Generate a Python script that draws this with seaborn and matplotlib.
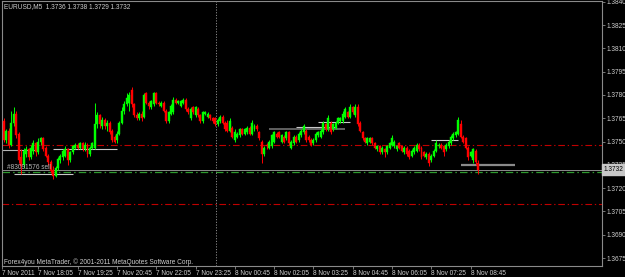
import numpy as np
import pandas as pd
import matplotlib
matplotlib.use("Agg")
import matplotlib.pyplot as plt
import matplotlib.transforms as mtransforms
import seaborn as sns

# ---------------- data (prices as pips above 1.3700) ----------------
BASE = 1.3700
open_pips = [63,51,57,48,62,68,55,40,35,42, 45,40,44,49,43,50,52,46,41,37,
             32,28,33,38,40,41,45,38,43,46, 48,46,49,45,48,42,46,46,61,67,
             60,64,60,62,57,53,51,55,62,70, 74,75,83,74,67,65,68,66,81,75,
             72,74,81,75,73,75,70,63,68,69, 77,75,73,75,77,71,65,72,67,71,
             67,63,68,66,67,65,65,61,63,66, 62,62,57,59,51,53,54,58,55,56,
             59,55,58,60,56,50,42,48,46,47, 50,55,56,50,53,52,56,46,49,53,
             51,54,56,57,53,51,49,51,54,53, 56,61,58,62,58,59,62,63,63,66,
             69,66,72,67,72,62,56,52,49,50, 52,49,45,47,43,45,43,46,48,47,
             45,49,47,43,46,44,41,43,44,48, 46,43,40,42,38,41,44,47,48,47,
             45,47,49,52,54,55,61,53,52,46, 41,38,44,36]
high_pips = [65,58,59,70,72,70,56,45,46,47, 46,48,51,50,52,53,53,47,42,38,
             34,34,40,42,45,47,46,44,48,49, 49,50,50,50,49,47,50,75,69,68,
             66,65,64,63,58,54,57,63,72,76, 81,82,85,75,69,69,70,81,82,76,
             77,82,82,76,76,76,71,70,74,79, 78,77,77,78,78,72,72,73,73,72,
             68,70,70,69,68,66,66,65,67,67, 63,64,65,60,58,56,59,59,59,60,
             60,64,61,61,57,51,47,49,51,55, 57,56,57,55,54,57,57,51,54,54,
             56,58,61,58,54,52,52,56,57,58, 63,62,67,63,62,63,66,66,70,72,
             70,74,73,74,74,63,57,53,53,53, 53,50,48,48,47,46,48,50,54,51,
             48,50,48,47,47,45,45,47,49,49, 47,44,43,43,42,45,51,49,49,48,
             49,51,54,56,57,66,64,54,53,47, 44,46,45,38]
low_pips = [50,49,46,47,60,52,36,29,33,40, 38,39,42,41,42,48,44,40,35,30,
            26,27,32,36,38,40,35,37,42,45, 45,45,44,44,40,41,45,45,59,59,
            58,58,57,55,50,49,49,54,61,68, 73,70,72,66,64,64,63,65,74,71,
            71,73,74,73,72,69,62,62,67,68, 74,74,72,74,70,68,64,68,66,66,
            62,62,67,65,64,62,60,60,62,61, 57,56,56,52,50,52,53,54,54,55,
            54,54,57,57,51,36,41,45,45,46, 49,52,52,49,49,51,48,45,48,49,
            50,53,55,50,50,47,48,50,53,52, 55,57,57,55,57,58,61,62,62,65,
            65,65,68,66,60,56,51,49,48,49, 48,45,44,42,42,40,42,45,47,46,
            44,45,43,42,41,39,40,42,43,44, 39,40,39,34,37,40,43,46,45,41,
            44,46,48,51,53,54,52,49,45,38, 40,36,35,29]
close_pips = [51,57,48,62,68,54,38,34,44,45, 40,46,49,43,50,52,45,41,37,31,
              28,33,39,41,44,45,38,43,47,48, 46,49,45,48,42,46,49,61,67,61,
              64,60,62,56,51,50,55,62,70,74, 78,80,74,67,65,68,65,80,75,73,
              76,81,75,74,75,70,63,69,73,77, 75,76,76,77,71,69,71,69,72,67,
              63,69,69,68,65,63,61,64,66,62, 58,57,63,53,56,55,58,55,58,59,
              55,62,60,58,52,42,46,47,50,54, 56,53,53,54,50,56,49,50,53,50,
              55,57,60,51,51,48,51,55,56,57, 62,58,65,56,61,62,65,65,68,71,
              66,72,69,72,61,57,52,50,52,52, 49,46,47,43,46,43,47,49,52,50,
              47,46,44,46,42,40,44,46,48,45, 40,41,42,36,41,44,49,48,46,43,
              48,50,53,55,56,64,53,50,46,40, 43,45,37,32]

symbol_text = "EURUSD,M5  1.3736 1.3738 1.3729 1.3732"
copyright_text = "Forex4you MetaTrader, \u00a9 2001-2011 MetaQuotes Software Corp."
order_label = "#83091576 sell"
bid_price = 1.3732
order_price = 1.37305
level_prices = [1.37478, 1.37098]

price_ticks = [1.3840, 1.3825, 1.3810, 1.3795, 1.3780, 1.3765, 1.3750,
               1.3735, 1.3720, 1.3705, 1.3690, 1.3675]
time_tick_bars = [-0.7, 14, 30, 46, 62, 78, 94, 110, 126, 142, 158, 174, 190]
time_tick_labels = ["7 Nov 2011", "7 Nov 18:05", "7 Nov 19:25", "7 Nov 20:45",
                    "7 Nov 22:05", "7 Nov 23:25", "8 Nov 00:45", "8 Nov 02:05",
                    "8 Nov 03:25", "8 Nov 04:45", "8 Nov 06:05", "8 Nov 07:25",
                    "8 Nov 08:45"]
separator_bar = 86.3

seg_price = [1.37446, 1.37453, 1.37292, 1.37582, 1.37594, 1.37627, 1.37511, 1.37350]
seg_start = [-0.8, 20, 4, 108, 119, 128, 174, 186]
seg_end = [13.8, 46, 28, 139, 135, 141, 185, 208]
seg_color = ["#b4b4b4", "#c8c8c8", "#c8c8c8", "#707070", "#c8c8c8", "#c8c8c8",
             "#c8c8c8", "#8a8a8a"]
seg_width = [0.8, 0.8, 0.8, 1.2, 0.8, 0.8, 0.8, 1.6]

# ---------------- figure ----------------
sns.set_theme(style="dark", rc={"axes.facecolor": "black", "figure.facecolor": "black",
                                "savefig.facecolor": "black"})
plt.rcParams["font.family"] = ["Liberation Sans", "DejaVu Sans"]

df = pd.DataFrame({
    "bar": np.arange(len(close_pips)),
    "open": BASE + np.array(open_pips) / 1e4,
    "high": BASE + np.array(high_pips) / 1e4,
    "low": BASE + np.array(low_pips) / 1e4,
    "close": BASE + np.array(close_pips) / 1e4,
})
df["color"] = np.where(df["close"] >= df["open"], "#00ff00", "#ff0000")

fig = plt.figure(figsize=(6.25, 2.77), dpi=100)
ax = fig.add_axes([2 / 625, 11 / 277, 600 / 625, 265 / 277])
ax.set_facecolor("black")

txt_col = "#cfcfcf"
fs = 4.7

# horizontal lines (levels, order, bid)
for p in level_prices:
    ax.axhline(p, color="#c00000", lw=0.8, ls=(0, (6, 2.5, 1.2, 2.5)), zorder=1)
ax.axhline(order_price, color="#2f9a2f", lw=0.9, ls=(0, (6, 2.5, 1.2, 2.5)), zorder=1)
ax.axhline(bid_price, color="#8c8c8c", lw=0.7, zorder=1)
ax.axvline(separator_bar, color="#8a8a8a", lw=0.7, ls=(0, (1.2, 1.6)), zorder=1)

# trend segments
for p, s, e, c, w in zip(seg_price, seg_start, seg_end, seg_color, seg_width):
    ax.hlines(p, s, e, colors=c, lw=w, zorder=2)

# candles
ax.vlines(df["bar"], df["low"], df["high"], colors=df["color"], lw=0.7, zorder=3)
ax.bar(df["bar"], df["close"] - df["open"], bottom=df["open"], width=0.8,
       color=df["color"], edgecolor=df["color"], linewidth=0.3, zorder=4)

ax.set_xlim(-0.81, 243.5)
ax.set_ylim(1.36699, 1.38405)

# axes styling
for s in ax.spines.values():
    s.set_color("#8a8a8a")
    s.set_linewidth(0.8)
    s.set_visible(True)
ax.yaxis.tick_right()
ax.set_yticks(price_ticks)
ax.set_yticklabels([f"{v:.4f}" for v in price_ticks])
ax.set_xticks(time_tick_bars)
ax.set_xticklabels(time_tick_labels)
ax.tick_params(axis="y", which="both", right=True, left=False, length=2, width=0.6,
               color="#8a8a8a", labelcolor=txt_col, labelsize=fs, pad=1.2)
ax.tick_params(axis="x", which="both", bottom=True, length=2, width=0.6,
               color="#8a8a8a", labelcolor=txt_col, labelsize=fs, pad=1.2)
for lab in ax.get_xticklabels():
    lab.set_horizontalalignment("left")
ax.grid(False)

# texts
fig.text(4 / 625, 1 - 7 / 277, symbol_text, color=txt_col, fontsize=fs, va="center", ha="left")
fig.text(4 / 625, 1 - 262 / 277, copyright_text, color=txt_col, fontsize=fs, va="center", ha="left")
ax.text(5 / 600 * 244.3 - 0.8, order_price + 0.00004, order_label, color="#b8b8b8",
        fontsize=fs, va="bottom", ha="left", zorder=5)

trans = mtransforms.blended_transform_factory(ax.transAxes, ax.transData)
ax.text(1.003, bid_price, f"{bid_price:.4f}", transform=trans, color="black", fontsize=fs,
        va="center", ha="left", zorder=6, clip_on=False,
        bbox=dict(boxstyle="square,pad=0.25", fc="#c8c8c8", ec="#c8c8c8"))

fig.savefig("out.png", dpi=100, facecolor="black")
